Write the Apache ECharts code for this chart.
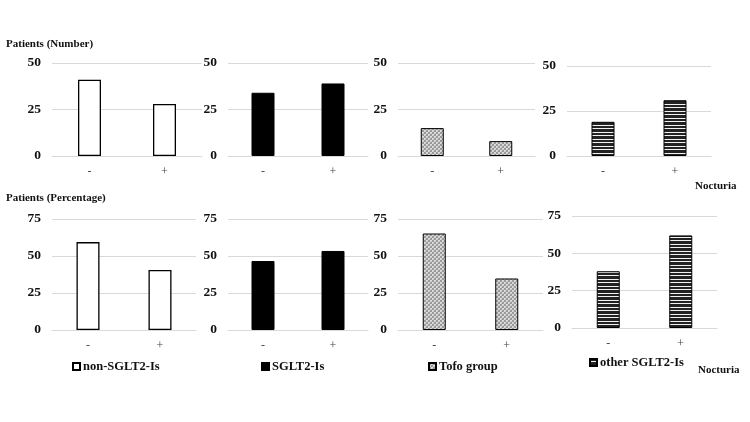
<!DOCTYPE html>
<html>
<head>
<meta charset="utf-8">
<script src="https://cdn.jsdelivr.net/npm/echarts@6/dist/echarts.min.js"></script>
<style>
  html, body { margin: 0; padding: 0; background: #fff; }
  #main { width: 750px; height: 422px; }
</style>
</head>
<body>
<div id="main"></div>
<script>
// nocturia: '-' = no, '+' = yes
const categories = ['-', '+']
const groupNames = ['non-SGLT2-Is', 'SGLT2-Is', 'Tofo group', 'other SGLT2-Is']

// patients (number)
const nonSglt2Number = [41, 28]
const sglt2Number = [34, 39]
const tofoNumber = [15, 8]
const otherNumber = [19, 31]

// patients (percentage)
const nonSglt2Pct = [59.4, 40.6]
const sglt2Pct = [46.6, 53.4]
const tofoPct = [65.2, 34.8]
const otherPct = [38, 62]

const numberTicks = [0, 25, 50]
const pctTicks = [0, 25, 50, 75]

const FONT = '"Liberation Serif", "Times New Roman", serif'

// small canvas patterns for the hatched bars
function makePattern(w, h, draw) {
  const c = document.createElement('canvas')
  c.width = w
  c.height = h
  draw(c.getContext('2d'))
  return { image: c, repeat: 'repeat' }
}
const checkFill = makePattern(4, 4, (ctx) => {
  ctx.fillStyle = '#dcdcdc'
  ctx.fillRect(0, 0, 4, 4)
  ctx.fillStyle = '#9a9a9a'
  ctx.fillRect(0, 0, 2, 2)
  ctx.fillRect(2, 2, 2, 2)
  ctx.fillStyle = '#c4c4c4'
  ctx.fillRect(1, 3, 1, 1)
  ctx.fillRect(3, 1, 1, 1)
})
const stripeFill = makePattern(4, 7, (ctx) => {
  ctx.fillStyle = '#222'
  ctx.fillRect(0, 0, 4, 7)
  ctx.fillStyle = '#f2f2f2'
  ctx.fillRect(0, 2, 4, 1)
  ctx.fillRect(0, 6, 4, 1)
})

const fills = [
  { color: '#fff', borderColor: '#000', borderWidth: 1.3 },
  { color: '#000', borderColor: '#000', borderWidth: 1 },
  { color: checkFill, borderColor: '#000', borderWidth: 1 },
  { color: stripeFill, borderColor: '#000', borderWidth: 1 }
]

// plot boxes in pixels (left, top, width, height)
const boxes = [
  [52, 63, 150, 93], [228, 63, 140, 93], [398, 63, 137, 93], [567, 66, 144, 90],
  [52, 219, 144, 111], [228, 219, 140, 111], [398, 219, 145, 111], [572, 216, 145, 112]
]
const panelData = [
  nonSglt2Number, sglt2Number, tofoNumber, otherNumber,
  nonSglt2Pct, sglt2Pct, tofoPct, otherPct
]

const grid = []
const xAxis = []
const yAxis = []
const series = []
boxes.forEach((b, i) => {
  const ticks = i < 4 ? numberTicks : pctTicks
  grid.push({ left: b[0], top: b[1], width: b[2], height: b[3] })
  xAxis.push({
    type: 'category',
    gridIndex: i,
    data: categories,
    axisLine: { lineStyle: { color: '#d9d9d9', width: 1 } },
    axisTick: { show: false },
    axisLabel: { color: '#444', fontFamily: FONT, fontSize: 12, margin: 10 }
  })
  yAxis.push({
    type: 'value',
    gridIndex: i,
    min: ticks[0],
    max: ticks[ticks.length - 1],
    interval: ticks[1] - ticks[0],
    axisLine: { show: false },
    axisTick: { show: false },
    splitLine: { lineStyle: { color: '#d9d9d9', width: 1 } },
    axisLabel: { color: '#111', fontFamily: FONT, fontSize: 13.5, fontWeight: 'bold', margin: 11 }
  })
  series.push({
    type: 'bar',
    name: groupNames[i % 4],
    xAxisIndex: i,
    yAxisIndex: i,
    barWidth: 23,
    data: panelData[i],
    itemStyle: fills[i % 4],
    emphasis: { disabled: true }
  })
})

const legendPos = [[72, 360], [261, 360], [428, 360], [589, 356]]
const legend = legendPos.map((p, i) => ({
  data: [groupNames[i]],
  left: p[0],
  top: p[1],
  padding: 0,
  icon: 'rect',
  itemWidth: 7,
  itemHeight: 7,
  selectedMode: false,
  textStyle: { color: '#111', fontFamily: FONT, fontSize: 12.5, fontWeight: 'bold', padding: [0, 0, 0, -2] }
}))

const titleStyle = { fill: '#111', font: 'bold 11px ' + FONT }
const option = {
  animation: false,
  backgroundColor: '#fff',
  grid: grid,
  xAxis: xAxis,
  yAxis: yAxis,
  series: series,
  legend: legend,
  graphic: [
    { type: 'text', left: 6, top: 39, style: Object.assign({ text: 'Patients (Number)' }, titleStyle) },
    { type: 'text', left: 6, top: 193, style: Object.assign({ text: 'Patients (Percentage)' }, titleStyle) },
    { type: 'text', left: 695, top: 181, style: Object.assign({ text: 'Nocturia' }, titleStyle) },
    { type: 'text', left: 698, top: 365, style: Object.assign({ text: 'Nocturia' }, titleStyle) }
  ]
}

const myChart = echarts.init(document.getElementById('main'))
myChart.setOption(option)
</script>
</body>
</html>
